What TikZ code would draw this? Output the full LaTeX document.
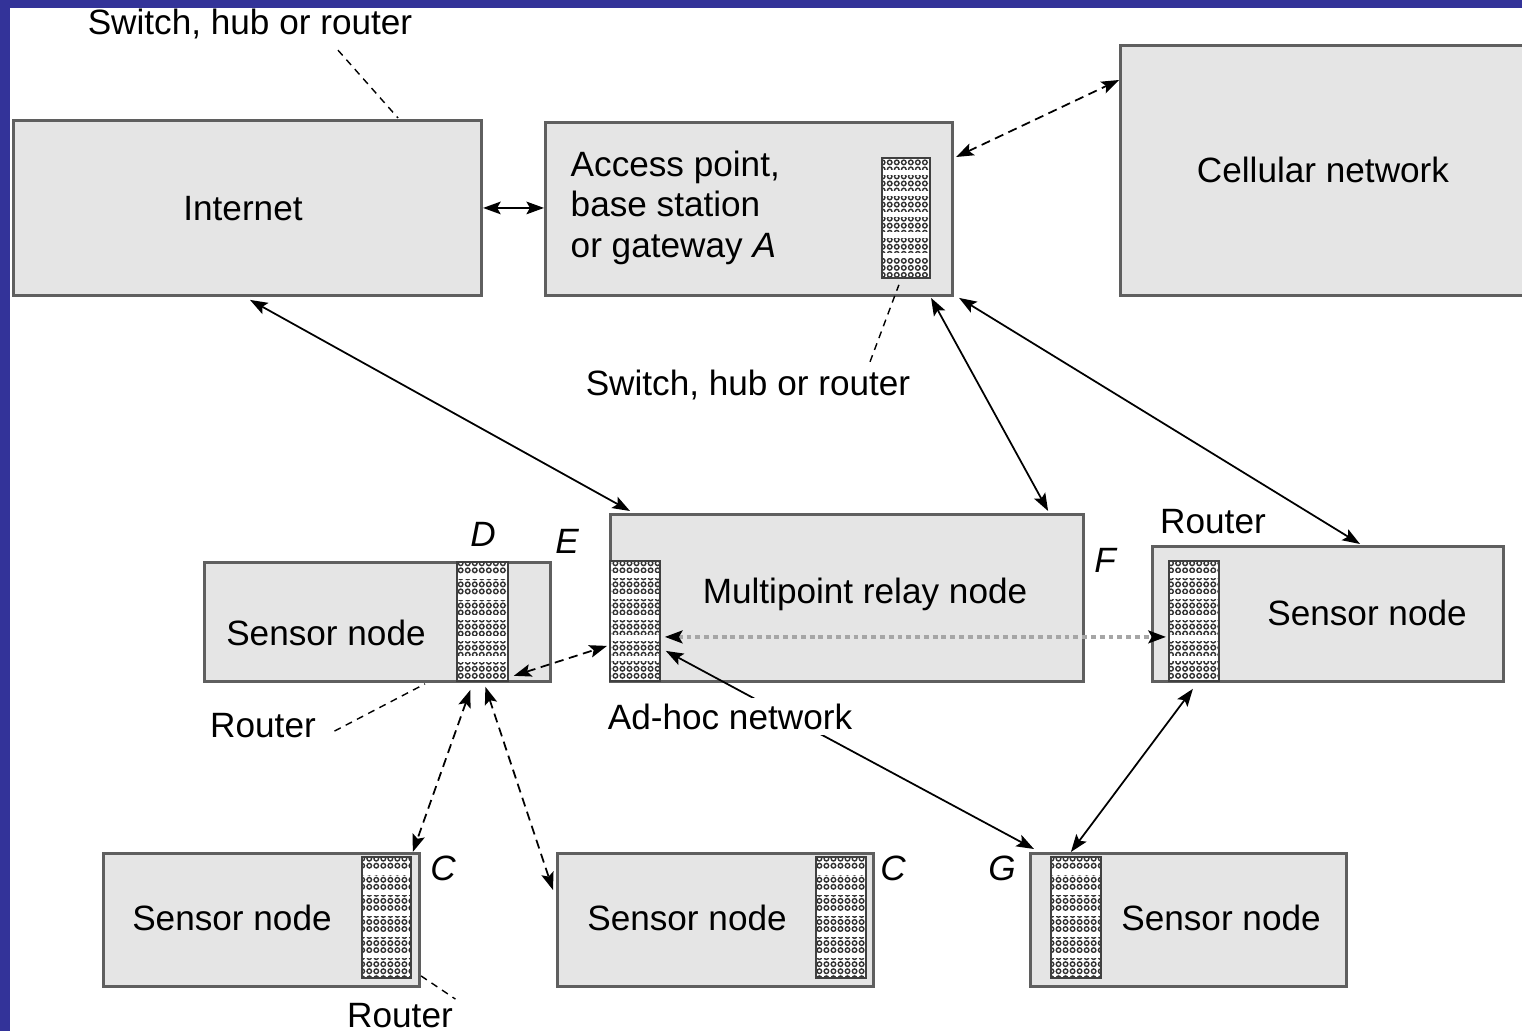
\documentclass[tikz,border=0pt]{standalone}
\usepackage{fontspec}
\setmainfont{Liberation Sans}
\usetikzlibrary{arrows.meta,calc,patterns}

\definecolor{frameblue}{RGB}{51,51,153}
\definecolor{boxgray}{RGB}{229,229,229}
\definecolor{edgegray}{RGB}{95,95,95}

% small stroked rings used as the fill of the interface blocks
\pgfdeclarepatternformonly{ringdots}{\pgfqpoint{-0.2pt}{-0.2pt}}{\pgfqpoint{2.2pt}{2.2pt}}{\pgfqpoint{2pt}{2pt}}{%
  \pgfsetlinewidth{0.4pt}%
  \pgfpathcircle{\pgfqpoint{1pt}{1pt}}{0.65pt}%
  \pgfusepath{stroke}}

\begin{document}
\begin{tikzpicture}[x=0.01cm,y=-0.01cm,
  font=\fontsize{10}{11.6}\selectfont,
  >={Stealth[length=5pt,width=3.6pt,inset=1pt,color=black]},
  box/.style={draw=edgegray, line width=0.8pt, fill=boxgray, anchor=north west, inner sep=0pt},
  router/.style={draw=black!75, line width=0.5pt, anchor=north west, inner sep=0pt,
    preaction={fill=white}, pattern=ringdots, pattern color=black!80},
  band/.style={white, line width=1.5pt},
  lbl/.style={inner sep=0pt, anchor=base},
  tag/.style={inner sep=0pt, anchor=base, font=\fontsize{10}{12}\selectfont\itshape},
  link/.style={<->, line width=0.5pt},
  dlink/.style={<->, line width=0.5pt, dash pattern=on 2.6pt off 1.6pt},
  glink/.style={<->, line width=1.2pt, draw=black!35, dash pattern=on 1.4pt off 1.1pt},
  leader/.style={line width=0.4pt, dash pattern=on 2pt off 1.6pt}]

\clip (0,0) rectangle (1522,1031);
\fill[frameblue] (0,0) rectangle (1522,1031);
\fill[white] (10,8) rectangle (1522,1031);

% upper row
\node[box, minimum width=4.68cm, minimum height=1.75cm] (inet) at (12,119) {};
\node[box, minimum width=4.07cm, minimum height=1.73cm] (ap) at (544,121) {};
\node[router, minimum width=0.48cm, minimum height=1.20cm] (apr) at (881,157) {};
\node[box, minimum width=4.30cm, minimum height=2.50cm] (cell) at (1119,44) {};

% middle row
\node[box, minimum width=4.73cm, minimum height=1.67cm] (mpr) at (609,513) {};
\node[router, minimum width=0.50cm, minimum height=1.20cm] (mrr) at (609,560) {};
\node[box, minimum width=3.46cm, minimum height=1.19cm] (ds) at (203,561) {};
\node[router, minimum width=0.51cm, minimum height=1.19cm] (dr) at (456,561) {};
\node[box, minimum width=3.51cm, minimum height=1.35cm] (rs) at (1151,545) {};
\node[router, minimum width=0.50cm, minimum height=1.20cm] (rsr) at (1168,560) {};

% lower row
\node[box, minimum width=3.16cm, minimum height=1.33cm] (bl) at (102,852) {};
\node[router, minimum width=0.49cm, minimum height=1.21cm] (blr) at (361,856) {};
\node[box, minimum width=3.16cm, minimum height=1.33cm] (bm) at (556,852) {};
\node[router, minimum width=0.50cm, minimum height=1.21cm] (bmr) at (815,856) {};
\node[box, minimum width=3.16cm, minimum height=1.33cm] (gs) at (1029,852) {};
\node[router, minimum width=0.50cm, minimum height=1.21cm] (gr) at (1050,856) {};

% white bands across the ring pattern of every interface block
\foreach \r in {apr,mrr,dr,rsr,blr,bmr,gr}{
  \foreach \f in {0.13,0.30,0.47,0.64,0.81}{
    \draw[band] ($(\r.north west)!\f!(\r.south west)+(2,0)$) -- ($(\r.north east)!\f!(\r.south east)+(-2,0)$);}}

% box texts
\node[lbl] (tinet) at (243,221) {Internet};
\node[inner sep=0pt, anchor=north west, align=left] (tap) at (570,150)
  {Access point,\\base station\\or gateway \textit{A}};
\node[lbl] (tcell) at (1323,183) {Cellular network};
\node[lbl] (tmpr) at (865,603) {Multipoint relay node};
\node[lbl] (tds) at (326,645) {Sensor node};
\node[lbl] (trs) at (1367,625) {Sensor node};
\node[lbl] (tbl) at (232,930) {Sensor node};
\node[lbl] (tbm) at (687,930) {Sensor node};
\node[lbl] (tgs) at (1221,930) {Sensor node};

% letters naming the interfaces
\node[tag] (tD) at (483,547) {D};
\node[tag] (tE) at (567,553) {E};
\node[tag] (tF) at (1105,572) {F};
\node[tag] (tC1) at (443,880) {C};
\node[tag] (tC2) at (893,880) {C};
\node[tag] (tG) at (1002,880) {G};

% links
\draw[link] (inet.east) -- (inet.east -| ap.west);
\draw[dlink] ($(ap.north east)+(2,36)$) -- ($(cell.north west)+(0,36)$);
\draw[link] ($(inet.south west)+(238,3)$) -- ($(mpr.north west)+(21,-2)$);
\draw[link] ($(ap.south east)+(-23,1)$) -- ($(mpr.north east)+(-37,-2)$);
\draw[link] ($(ap.south east)+(5,1)$) -- ($(rs.north west)+(209,-1)$);
\draw[glink] ($(mrr.east)+(4,16)$) -- ($(rsr.west)+(-2,16)$);
\draw[dlink] ($(dr.south east)+(5,-6)$) -- ($(mrr.west)+(-2,25)$);
\draw[dlink] ($(dr.south)+(-12,8)$) -- ($(blr.north east)+(1,-4)$);
\draw[dlink] ($(dr.south)+(3,5)$) -- ($(bm.north west)+(-3,38)$);
\draw[link] ($(mrr.east)+(5,30)$) -- ($(gs.north west)+(5,-3)$);
\draw[link] ($(rsr.south)+(-1,7)$) -- ($(gr.north)+(-5,-4)$);

% free labels and their leaders
\node[lbl, fill=white, inner sep=1.5pt] (adhoc) at (730,729) {Ad-hoc network};
\node[lbl] (sw1) at (250,35) {Switch, hub or router};
\draw[leader] ($(sw1.south)+(88,10)$) -- ($(inet.north west)+(386,-1)$);
\node[lbl] (sw2) at (748,396) {Switch, hub or router};
\draw[leader] ($(sw2.north)+(122,-8)$) -- ($(apr.south)+(-7,6)$);
\node[lbl] (rt1) at (263,737) {Router};
\draw[leader] ($(rt1.east)+(18,6)$) -- ($(ds.south west)+(222,1)$);
\node[lbl] (rt2) at (1213,533) {Router};
\node[lbl] (rt3) at (400,1027) {Router};
\draw[leader] ($(bl.south east)+(0,-12)$) -- ($(rt3.north east)+(2,-3)$);
\end{tikzpicture}
\end{document}
